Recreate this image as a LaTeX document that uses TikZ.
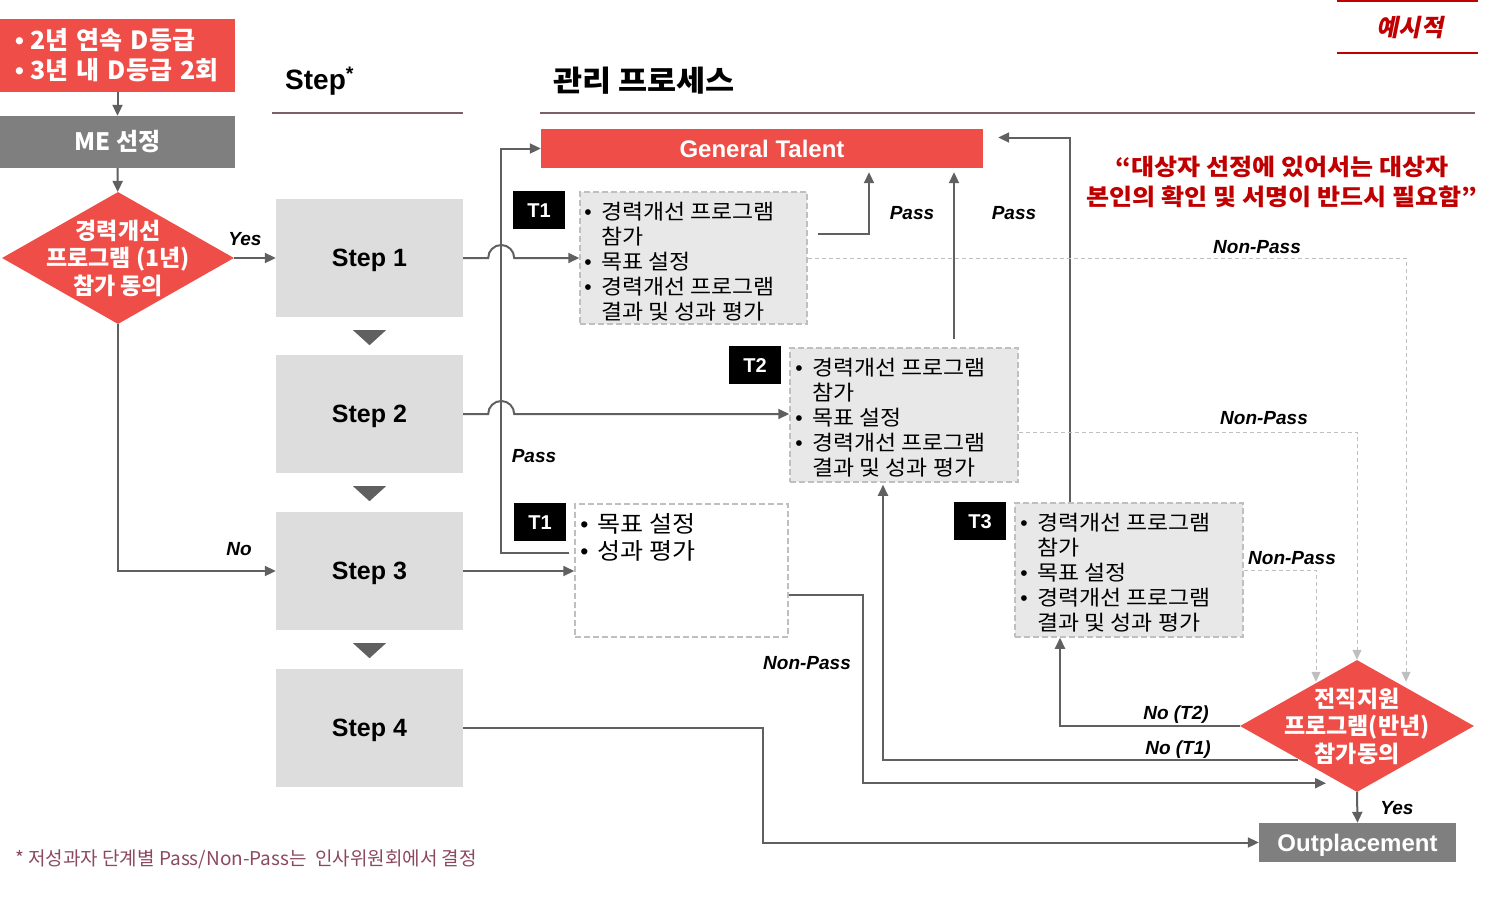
\documentclass[tikz,border=0pt]{standalone}
\usepackage{fontspec}
\setmainfont{Liberation Sans}
\newfontfamily\kr{Noto Sans CJK KR}
\newfontfamily\krwide[FakeStretch=1.09]{Noto Sans CJK KR}
\newfontfamily\krslant[FakeSlant=0.2]{Noto Sans CJK KR}
\usetikzlibrary{shapes.geometric, arrows.meta, positioning, calc}
\definecolor{ptred}{RGB}{238, 77, 72}
\definecolor{darkred}{RGB}{192, 0, 0}
\definecolor{megray}{RGB}{127, 127, 127}
\definecolor{stepgray}{RGB}{221, 221, 221}
\definecolor{taskgray}{RGB}{232, 232, 232}
\definecolor{dashgray}{RGB}{191, 191, 191}
\definecolor{arrowgray}{RGB}{96, 96, 96}
\definecolor{rulemauve}{RGB}{122, 96, 104}
\definecolor{notemauve}{RGB}{140, 72, 96}
\newcommand{\tbul}{\makebox[17pt][l]{\rmfamily\textbullet}}
\newcommand{\tind}{\hspace*{17pt}}
\newcommand{\cbul}{\makebox[15pt][l]{\rmfamily\bfseries\textbullet}}
\tikzset{
    redbox/.style={fill=ptred, text=white, inner sep=0pt},
    graybox/.style={fill=megray, text=white, inner sep=0pt},
    stepbox/.style={fill=stepgray, minimum width=187pt, minimum height=118pt, inner sep=0pt, text depth=0pt, font=\fontsize{25}{30}\selectfont\bfseries},
    tagbox/.style={fill=black, text=white, minimum width=52pt, minimum height=38pt, inner sep=0pt, font=\fontsize{20}{24}\selectfont\bfseries},
    taskbox/.style={draw=dashgray, line width=1.5pt, dash pattern=on 6pt off 3pt, fill=taskgray, inner sep=0pt},
    tasktext/.style={anchor=north west, align=left, inner sep=0pt, font=\krwide\fontsize{21}{25}\selectfont},
    decision/.style={diamond, fill=ptred, minimum width=232pt, minimum height=132pt, inner sep=0pt},
    decisiontext/.style={text=white, align=center, inner sep=0pt, font=\kr\fontsize{23}{27.5}\selectfont\bfseries},
    flowarrow/.style={draw=arrowgray, line width=2pt, -{Triangle[length=11pt, width=10pt]}},
    failarrow/.style={draw=dashgray, line width=1pt, dash pattern=on 4pt off 3pt, -{Triangle[length=10pt, width=9pt]}},
    flowlabel/.style={inner sep=0pt, font=\fontsize{19}{22}\selectfont\bfseries\itshape},
}
\begin{document}
\begin{tikzpicture}[x=1pt, y=-1pt]
    \useasboundingbox (0,0) rectangle (1489,905);

    % left column
    \node[redbox, minimum width=235pt, minimum height=73pt, text width=205pt, inner xsep=15pt, align=left, font=\kr\fontsize{25}{30}\selectfont\bfseries] (crit) at (117.5,55.5) {\cbul 2년 연속 D등급\\\cbul 3년 내 D등급 2회};
    \node[graybox, minimum width=235pt, minimum height=52pt, font=\kr\fontsize{24}{28}\selectfont\bfseries] (me) at (117.5,142) {ME 선정};
    \node[decision] (agree1) at (118,258) {};
    \node[decisiontext] (agree1txt) at (agree1) {경력개선\\프로그램 (1년)\\참가 동의};

    % steps
    \node[anchor=west, inner sep=0pt, font=\fontsize{28}{32}\selectfont\bfseries] (stephead) at (285,81) {Step\textsuperscript{*}};
    \draw[rulemauve, line width=1.5pt] (272,113) -- (463,113);
    \foreach \i/\y in {1/258, 2/414, 3/571, 4/728}
        \node[stepbox] (step\i) at (369.5,\y) {Step \i};
    \foreach \i in {1,2,3}
        \fill[arrowgray] ($(step\i.south)+(-16.5,13)$) -- ++(33,0) -- ++(-16.5,15) -- cycle;

    \draw[flowarrow] (crit) -- (me);
    \draw[flowarrow] (me) -- (agree1);
    \draw[flowarrow] (agree1.east) -- (step1.west |- agree1.east);
    \draw[flowarrow] (agree1.south) |- (step3.west);
    \node[flowlabel] (yeslbl) at (245,239) {Yes};
    \node[flowlabel] (nolbl) at (239,549) {No};

    % process
    \node[anchor=west, inner sep=0pt, font=\krwide\fontsize{29}{34}\selectfont\bfseries] (prochead) at (553,81) {관리 프로세스};
    \draw[rulemauve, line width=1.5pt] (540,113) -- (1475,113);
    \node[redbox, minimum width=442pt, minimum height=39pt, font=\fontsize{24}{28}\selectfont\bfseries] (gt) at (762,148.5) {General Talent};

    \node[taskbox, minimum width=227pt, minimum height=132pt] (t1box) at (693.5,258) {};
    \node[tagbox, anchor=north east] (t1tag) at ($(t1box.north west)+(-14,0)$) {T1};
    \node[tasktext] (t1txt) at ($(t1box.north west)+(5,11)$) {\tbul 경력개선 프로그램\\\tind 참가\\\tbul 목표 설정\\\tbul 경력개선 프로그램\\\tind 결과 및 성과 평가};

    \node[taskbox, minimum width=228pt, minimum height=134pt] (t2box) at (904,415) {};
    \node[tagbox, anchor=north east] (t2tag) at ($(t2box.north west)+(-8,-1)$) {T2};
    \node[tasktext] (t2txt) at ($(t2box.north west)+(6,11)$) {\tbul 경력개선 프로그램\\\tind 참가\\\tbul 목표 설정\\\tbul 경력개선 프로그램\\\tind 결과 및 성과 평가};

    \node[taskbox, fill=white, minimum width=213pt, minimum height=133pt] (t1bbox) at (681.5,570.5) {};
    \node[tagbox, anchor=north east] (t1btag) at ($(t1bbox.north west)+(-8,0)$) {T1};
    \node[tasktext, font=\krwide\fontsize{23}{27}\selectfont] (t1btxt) at ($(t1bbox.north west)+(6,10)$) {\tbul 목표 설정\\\tbul 성과 평가};

    \node[taskbox, minimum width=228pt, minimum height=134pt] (t3box) at (1129,570) {};
    \node[tagbox, anchor=north east] (t3tag) at ($(t3box.north west)+(-8,0)$) {T3};
    \node[tasktext] (t3txt) at ($(t3box.north west)+(6,11)$) {\tbul 경력개선 프로그램\\\tind 참가\\\tbul 목표 설정\\\tbul 경력개선 프로그램\\\tind 결과 및 성과 평가};

    \node[decision, minimum width=234pt] (agree2) at (1357,726) {};
    \node[decisiontext] (agree2txt) at (agree2) {전직지원\\프로그램(반년)\\참가동의};
    \node[graybox, minimum width=197pt, minimum height=39pt, text depth=0pt, font=\fontsize{24}{28}\selectfont\bfseries] (out) at (1357.5,842.5) {Outplacement};

    \coordinate (passx) at ($(gt.west)+(-40,0)$);
    \draw[flowarrow] (step1.east) -- ++(25,0) arc[start angle=180, end angle=0, radius=13pt] -- (t1box.west);
    \draw[flowarrow] (step2.east) -- ++(25,0) arc[start angle=180, end angle=0, radius=13pt] -- (step2.east -| t2box.west);
    \draw[flowarrow] (step3.east) -- (step3.east -| t1bbox.west);
    \draw[flowarrow] (step4.east) -- ++(300,0) |- (out.west);
    \draw[flowarrow] ($(t1bbox.west)+(-5,-18)$) -| (passx) -- (gt.west);
    \draw[flowarrow, shorten >=4pt] ($(t1box.east)+(10,-24)$) -| ($(gt.south)+(107,0)$);
    \draw[flowarrow, shorten >=4pt] ($(t2box.north)+(50,-8)$) -- ($(gt.south)+(192,0)$);
    \draw[flowarrow] ($(t3box.north)+(-59,0)$) |- ($(gt.east)+(15,-11)$);
    \draw[failarrow] (t1box.east) -| ($(agree2.north)+(49,22)$);
    \draw[failarrow] ($(t2box.east)+(0,17)$) -| (agree2.north);
    \draw[failarrow] (t3box.east) -| ($(agree2.north)+(-41,22)$);
    \draw[flowarrow] ($(t1bbox.east)+(0,24)$) -- ++(74,0) |- ($(agree2.south)+(-31,-9)$);
    \draw[flowarrow] (agree2.west) -| ($(t3box.south)+(-69,0)$);
    \draw[flowarrow] ($(agree2.center)+(-59,34)$) -| ($(t2box.south)+(-21,2)$);
    \draw[flowarrow] (agree2.south) -- (out.north);

    \node[flowlabel] (pass1) at (534,456) {Pass};
    \node[flowlabel] (pass2) at (912,213) {Pass};
    \node[flowlabel] (pass3) at (1014,213) {Pass};
    \node[flowlabel] (np1) at (1257,247) {Non-Pass};
    \node[flowlabel] (np2) at (1264,418) {Non-Pass};
    \node[flowlabel] (np3) at (1292,558) {Non-Pass};
    \node[flowlabel] (np4) at (807,663) {Non-Pass};
    \node[flowlabel] (not2) at (1176,715) {No (T2)};
    \node[flowlabel] (not1) at (1178,750) {No (T1)};
    \node[flowlabel] (yes2) at (1397,808) {Yes};

    % notes
    \node[text=darkred, inner sep=0pt, font=\krslant\fontsize{24}{28}\selectfont\bfseries] (example) at (1410,28) {예시적};
    \draw[darkred, line width=2pt] (1337,1) -- (1478,1);
    \draw[darkred, line width=2pt] (1337,53) -- (1478,53);
    \node[align=center, text=darkred, inner sep=0pt, font=\krwide\fontsize{23}{30}\selectfont\bfseries] (quote) at (1282,182) {“대상자 선정에 있어서는 대상자\\본인의 확인 및 서명이 반드시 필요함”};
    \node[anchor=west, inner sep=0pt, text=notemauve, font=\kr\fontsize{19}{22}\selectfont] (note) at (15,859) {* 저성과자 단계별 Pass/Non-Pass는 ~인사위원회에서 결정};
\end{tikzpicture}
\end{document}
